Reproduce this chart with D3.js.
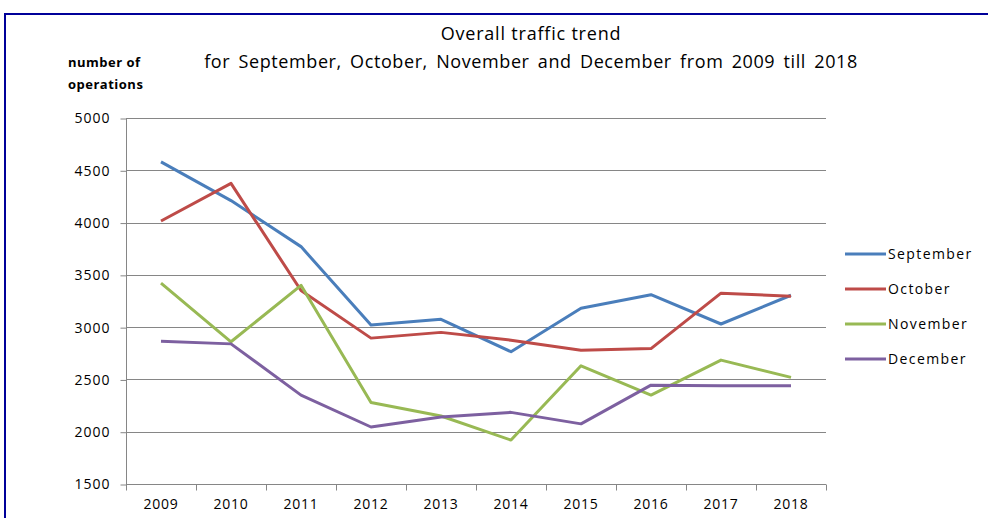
<!DOCTYPE html>
<html>
<head>
<meta charset="utf-8">
<script src="https://cdn.jsdelivr.net/npm/d3@7"></script>
<style>
  body { margin: 0; background: #fff; }
  svg text { font-family: "Open Sans", "Liberation Sans", sans-serif; fill: #000; }
</style>
</head>
<body>
<div id="chart"></div>
<script>
// values
var years = ['2009', '2010', '2011', '2012', '2013', '2014', '2015', '2016', '2017', '2018']
var september = [4580, 4210, 3770, 3020, 3075, 2765, 3180, 3310, 3030, 3305]
var october = [4015, 4375, 3350, 2895, 2950, 2875, 2780, 2795, 3325, 3295]
var november = [3420, 2860, 3400, 2280, 2150, 1920, 2630, 2350, 2685, 2520]
var december = [2865, 2840, 2350, 2045, 2140, 2185, 2075, 2445, 2440, 2440]
var yTicks = [1500, 2000, 2500, 3000, 3500, 4000, 4500, 5000]

var series = [
    { name: 'September', vals: september, color: '#4a7ebb' },
    { name: 'October', vals: october, color: '#be4b48' },
    { name: 'November', vals: november, color: '#98b954' },
    { name: 'December', vals: december, color: '#7d60a0' }
]

var W = 988, H = 518
var svg = d3.select('#chart').append('svg').attr('width', W).attr('height', H)

// frame (left + top edge visible)
svg.append('path')
    .attr('d', 'M5,518 V14 H988')
    .attr('fill', 'none').attr('stroke', '#000099').attr('stroke-width', 2)

var x = d3.scaleBand().domain(years).range([126, 826])
var y = d3.scaleLinear().domain([1500, 5000]).range([484, 118])

// grid
svg.append('g').selectAll('line').data(yTicks.slice(1)).enter().append('line')
    .attr('x1', 126).attr('x2', 826)
    .attr('y1', d => Math.round(y(d)) + 0.5).attr('y2', d => Math.round(y(d)) + 0.5)
    .attr('stroke', '#868686').attr('stroke-width', 1)

// y axis
var gy = svg.append('g').attr('transform', 'translate(126.5,0.5)')
    .call(d3.axisLeft(y).tickValues(yTicks).tickSize(6).tickPadding(10).tickFormat(d3.format('d')))
gy.select('.domain').attr('stroke', '#868686').attr('d', 'M0,' + Math.round(y(5000)) + 'V' + Math.round(y(1500)))
gy.selectAll('.tick line').attr('stroke', '#868686')
gy.selectAll('.tick text').attr('font-size', 14).attr('letter-spacing', 1)
    .attr('font-family', '"Open Sans", sans-serif')

// x axis
var gx = svg.append('g').attr('transform', 'translate(0,' + (Math.round(y(1500)) + 0.5) + ')')
gx.append('line').attr('x1', 126).attr('x2', 826).attr('stroke', '#868686')
gx.selectAll('.tk').data(years.concat(['end'])).enter().append('line')
    .attr('x1', (d, i) => Math.round(126 + i * x.bandwidth()) + 0.5)
    .attr('x2', (d, i) => Math.round(126 + i * x.bandwidth()) + 0.5)
    .attr('y1', 0).attr('y2', 6).attr('stroke', '#868686')
gx.selectAll('text').data(years).enter().append('text')
    .attr('x', d => x(d) + x.bandwidth() / 2).attr('y', 24)
    .attr('text-anchor', 'middle').attr('font-size', 14).attr('letter-spacing', 0.8)
    .text(d => d)

// lines
var line = d3.line()
    .x((d, i) => x(years[i]) + x.bandwidth() / 2)
    .y(d => y(d))
svg.append('g').selectAll('path').data(series).enter().append('path')
    .attr('d', d => line(d.vals))
    .attr('fill', 'none').attr('stroke', d => d.color)
    .attr('stroke-width', 3).attr('stroke-linejoin', 'round')

// legend
var lg = svg.append('g').selectAll('g').data(series).enter().append('g')
    .attr('transform', (d, i) => 'translate(845,' + (254 + i * 35) + ')')
lg.append('line').attr('x1', 0).attr('x2', 41).attr('stroke', d => d.color).attr('stroke-width', 3)
lg.append('text').attr('x', 43).attr('y', 5).attr('font-size', 14).attr('letter-spacing', 1.4)
    .text(d => d.name)

// titles
svg.append('text').attr('x', 531).attr('y', 40).attr('text-anchor', 'middle')
    .attr('font-size', 18).attr('letter-spacing', 0.8).text('Overall traffic trend')
svg.append('text').attr('x', 531).attr('y', 68).attr('text-anchor', 'middle')
    .attr('font-size', 18).attr('letter-spacing', 0.6).attr('word-spacing', 3)
    .text('for September, October, November and December from 2009 till 2018')

svg.append('text').attr('x', 68).attr('y', 67).attr('font-size', 13).attr('font-weight', 'bold')
    .attr('letter-spacing', 0.5).text('number of')
svg.append('text').attr('x', 68).attr('y', 89).attr('font-size', 13).attr('font-weight', 'bold')
    .attr('letter-spacing', 0.5).text('operations')
</script>
</body>
</html>
